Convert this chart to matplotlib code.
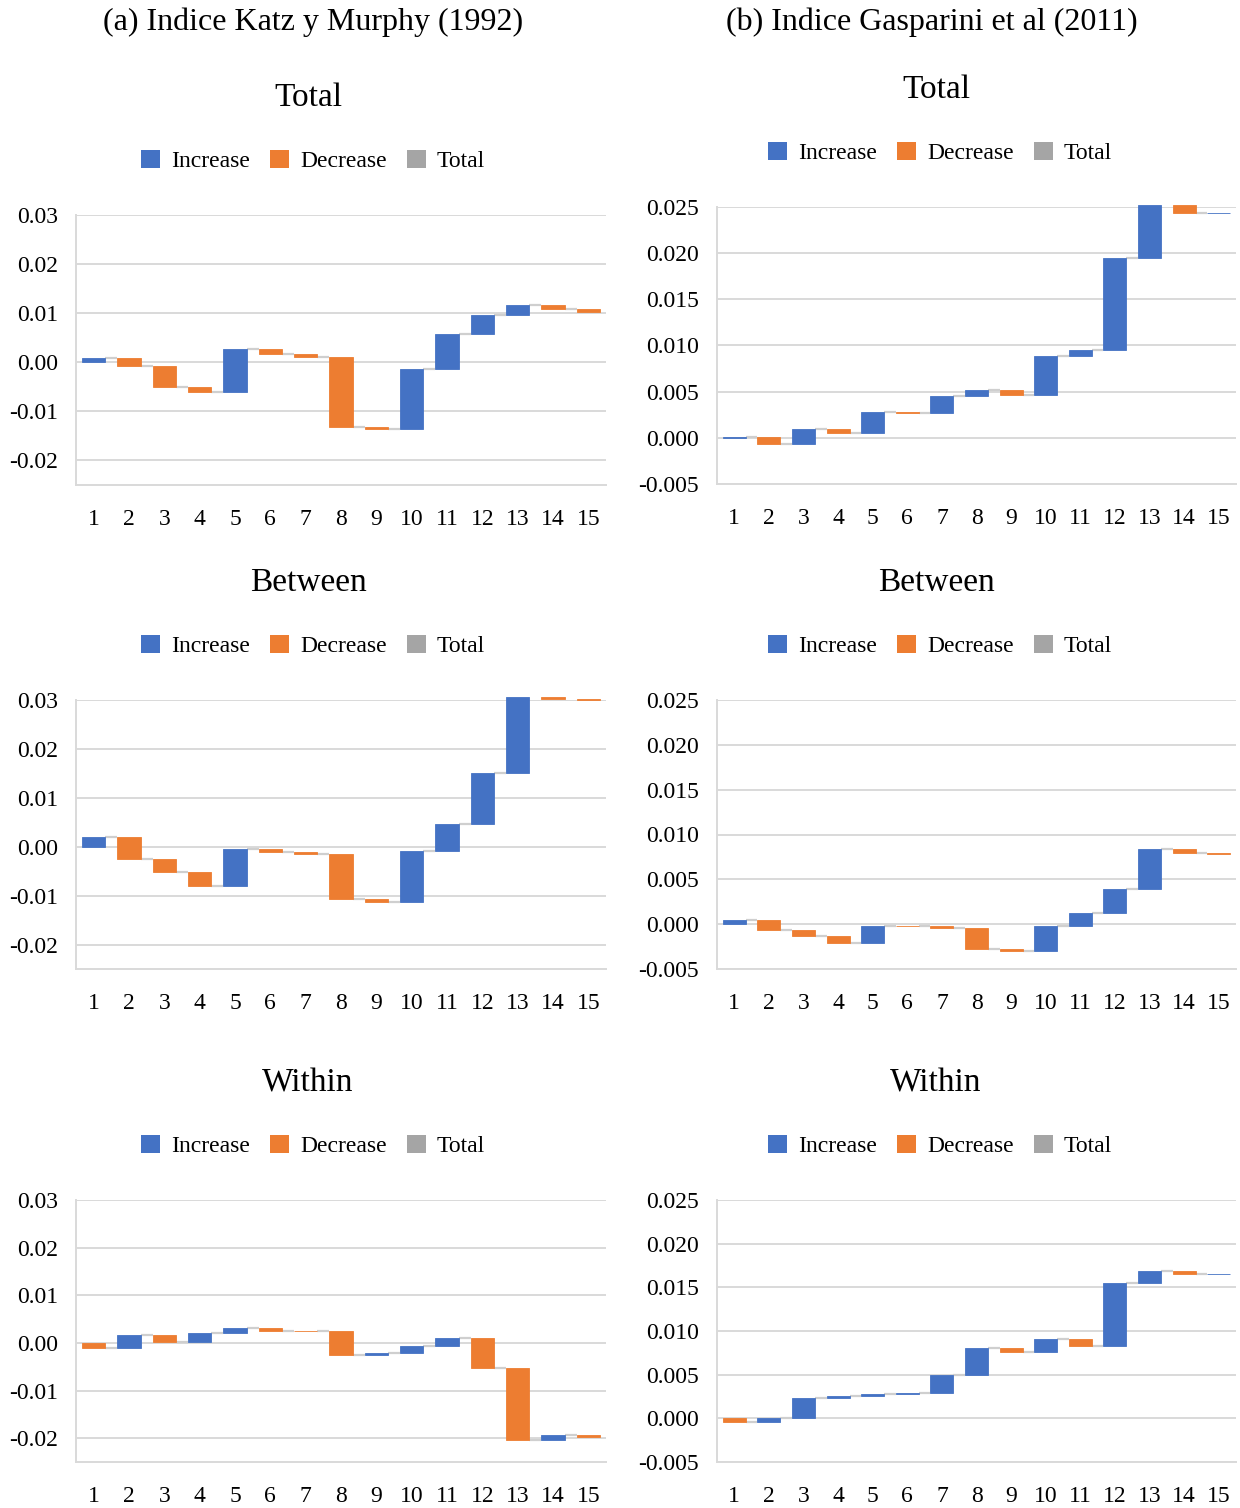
import matplotlib
matplotlib.use("Agg")
import matplotlib.pyplot as plt
from matplotlib.patches import Patch
import numpy as np

plt.rcParams['font.family'] = ['Liberation Serif', 'DejaVu Serif']

# ---------------- data ----------------
categories = list(range(1, 16))

# changes (waterfall steps) for each panel
katz_total = [0.0009, -0.0017, -0.0043, -0.0009, 0.0088, -0.0012, -0.0006, -0.0142,
              -0.0004, 0.0122, 0.0071, 0.0040, 0.0020, -0.0008, -0.0007]
katz_between = [0.0020, -0.0045, -0.0027, -0.0029, 0.0076, -0.0005, -0.0005, -0.0092,
                -0.0006, 0.0105, 0.0054, 0.0104, 0.0156, -0.0004, -0.0003]
katz_within = [-0.00105, 0.00265, -0.00146, 0.00196, 0.0011, -0.0007, -0.0001, -0.00485,
               0.00025, 0.0016, 0.0016, -0.0063, -0.0151, 0.0011, -0.0004]

gasp_total = [0.00005, -0.0007, 0.00159, -0.00047, 0.00228, -0.00011, 0.00188, 0.00068,
              -0.0006, 0.0043, 0.0006, 0.0100, 0.0057, -0.0009, 0.00003]
gasp_between = [0.00052, -0.00119, -0.0007, -0.00073, 0.00195, -0.00011, -0.00014, -0.0024,
                -0.0002, 0.00278, 0.00142, 0.0027, 0.0045, -0.0005, -0.00007]
gasp_within = [-0.0004, 0.00042, 0.00228, 0.00026, 0.00024, 0.0001, 0.0021, 0.0030,
               -0.0004, 0.0015, -0.0008, 0.0072, 0.0014, -0.0004, 0.00002]

katz_ticks = [-0.02, -0.01, 0.0, 0.01, 0.02, 0.03]
katz_ticklabels = ['-0.02', '-0.01', '0.00', '0.01', '0.02', '0.03']
gasp_ticks = [-0.005, 0.0, 0.005, 0.010, 0.015, 0.020, 0.025]
gasp_ticklabels = ['-0.005', '0.000', '0.005', '0.010', '0.015', '0.020', '0.025']

column_titles = ['(a) Indice Katz y Murphy (1992)', '(b) Indice Gasparini et al (2011)']
row_titles = ['Total', 'Between', 'Within']
legend_labels = ['Increase', 'Decrease', 'Total']

# ---------------- style ----------------
BLUE = '#4472C4'
ORANGE = '#ED7D31'
GRAY = '#A5A5A5'
GRID = '#d9d9d9'
CONN = '#cfcfcf'

W, H = 1240, 1508
fig = plt.figure(figsize=(W / 100, H / 100), dpi=100)


def fx(px):
    return px / W


def fy(py):
    return 1 - py / H


def waterfall(ax, deltas, ylim, ticks, ticklabels):
    x = np.array(categories, dtype=float)
    d = np.array(deltas, dtype=float)
    ends = np.cumsum(d)
    starts = ends - d
    bw = 0.66
    colors = [BLUE if v >= 0 else ORANGE for v in d]
    ax.bar(x, d, bottom=starts, width=bw, color=colors, edgecolor=colors,
           linewidth=0.6, clip_on=False, zorder=3)
    for i in range(len(x) - 1):
        ax.hlines(ends[i], x[i] + bw / 2, x[i + 1] - bw / 2, color=CONN,
                  lw=1.6, zorder=2)
    ax.set_xlim(0.5, len(x) + 0.5)
    ax.set_ylim(*ylim)
    ax.set_yticks(ticks)
    ax.set_yticklabels(ticklabels)
    ax.set_xticks(x)
    ax.set_xticklabels([str(c) for c in categories])
    ax.yaxis.grid(True, color=GRID, lw=1.4, zorder=0)
    ax.set_axisbelow(True)
    for s in ['top', 'right']:
        ax.spines[s].set_visible(False)
    for s in ['left', 'bottom']:
        ax.spines[s].set_color(GRID)
        ax.spines[s].set_linewidth(1.4)
    ax.tick_params(axis='both', length=0, labelsize=17, colors='black')
    ax.tick_params(axis='y', pad=13)
    ax.tick_params(axis='x', pad=17)


# axes placements (pixel boxes: left, right, top, bottom)
left_box = (76, 606)
right_box = (717, 1236)
left_rows = [(215, 485), (700, 969), (1200, 1462)]
right_rows = [(207, 484), (700, 969), (1200, 1462)]

left_data = [katz_total, katz_between, katz_within]
right_data = [gasp_total, gasp_between, gasp_within]

for r in range(3):
    t, b = left_rows[r]
    ax = fig.add_axes([fx(left_box[0]), fy(b), fx(left_box[1] - left_box[0]), (b - t) / H])
    waterfall(ax, left_data[r], (-0.025, 0.03), katz_ticks, katz_ticklabels)
    t, b = right_rows[r]
    ax = fig.add_axes([fx(right_box[0]), fy(b), fx(right_box[1] - right_box[0]), (b - t) / H])
    waterfall(ax, right_data[r], (-0.005, 0.025), gasp_ticks, gasp_ticklabels)

# column titles
fig.text(fx(313), fy(22), column_titles[0], ha='center', va='center', fontsize=23)
fig.text(fx(932), fy(22), column_titles[1], ha='center', va='center', fontsize=23)

# row titles and legends
left_title_y = [98, 583, 1083]
right_title_y = [90, 583, 1083]
left_leg_y = [161, 646, 1146]
right_leg_y = [153, 646, 1146]

handles = [Patch(facecolor=BLUE), Patch(facecolor=ORANGE), Patch(facecolor=GRAY)]

for r in range(3):
    fig.text(fx(308), fy(left_title_y[r]), row_titles[r], ha='center', va='center', fontsize=24)
    fig.text(fx(936), fy(right_title_y[r]), row_titles[r], ha='center', va='center', fontsize=24)
    for cx, cy in [(313, left_leg_y[r]), (940, right_leg_y[r])]:
        fig.legend(handles, legend_labels, loc='center', bbox_to_anchor=(fx(cx), fy(cy)),
                   ncol=3, frameon=False, fontsize=17, handlelength=0.8,
                   handleheight=0.8, handletextpad=0.47, columnspacing=0.85,
                   borderaxespad=0, borderpad=0)

fig.savefig('out.png', dpi=100)
